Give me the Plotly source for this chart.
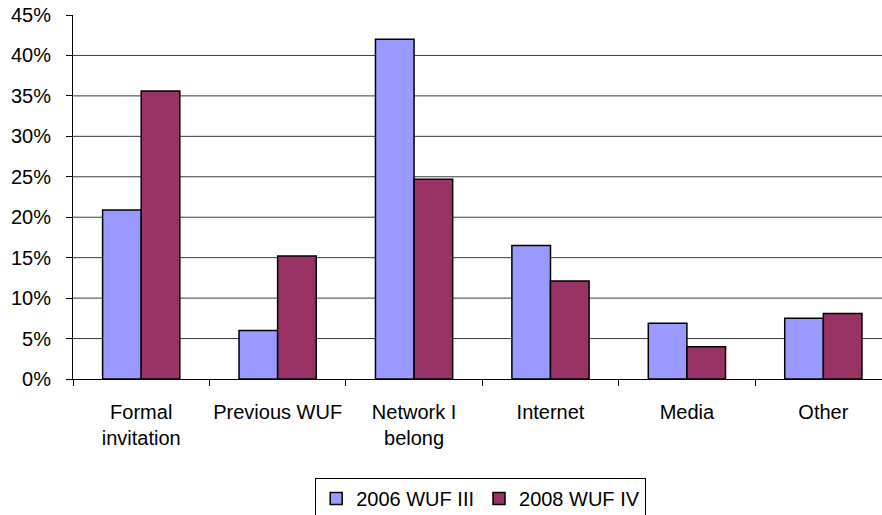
import plotly.graph_objects as go

CATEGORIES = ["Formal<br>invitation", "Previous WUF", "Network I<br>belong", "Internet", "Media", "Other"]
WUF_2006 = [0.209, 0.060, 0.420, 0.165, 0.069, 0.075]
WUF_2008 = [0.356, 0.152, 0.247, 0.121, 0.040, 0.081]
Y_TICKS = [0.0, 0.05, 0.10, 0.15, 0.20, 0.25, 0.30, 0.35, 0.40, 0.45]
GRID_VALS = [0.05, 0.10, 0.15, 0.20, 0.25, 0.30, 0.35, 0.40]

FONT = "Liberation Sans, Arial, sans-serif"

fig = go.Figure()
fig.add_trace(go.Bar(
    x=CATEGORIES, y=WUF_2006, name="2006 WUF III",
    marker=dict(color="#9999FF", line=dict(color="#000000", width=1.5)),
))
fig.add_trace(go.Bar(
    x=CATEGORIES, y=WUF_2008, name="2008 WUF IV",
    marker=dict(color="#993366", line=dict(color="#000000", width=1.5)),
))

for v in GRID_VALS:
    fig.add_hline(y=v, line=dict(color="#3a3a3a", width=1), layer="below")

fig.update_layout(
    width=882, height=515,
    margin=dict(l=73, r=0, t=15, b=136, autoexpand=False),
    paper_bgcolor="white", plot_bgcolor="white",
    font=dict(family=FONT, size=20, color="#000000"),
    barmode="group", bargap=0.434, bargroupgap=0,
    showlegend=True,
    legend=dict(
        orientation="h",
        xref="container", x=0.545, xanchor="center",
        yref="container", y=0.072, yanchor="top",
        bordercolor="#000000", borderwidth=1,
        font=dict(size=20),
        itemwidth=30,
    ),
    xaxis=dict(
        range=[-0.5, 5.43],
        showline=True, linecolor="#000000", linewidth=1,
        ticks="outside", ticklen=6, tickcolor="#000000",
        tickson="boundaries", tickangle=0,
        showgrid=False,
        ticklabelstandoff=15,
        automargin=False,
    ),
    yaxis=dict(
        range=[0, 0.45],
        tickvals=Y_TICKS, tickformat=".0%",
        showline=True, linecolor="#000000", linewidth=1,
        ticks="outside", ticklen=6, tickcolor="#000000",
        showgrid=False, zeroline=False,
        tickfont=dict(size=20),
        ticklabelstandoff=11,
        ticklabeloverflow="allow",
        automargin=False,
    ),
)

# drop the default 8px page margin so the figure sits at the window's corner
fig.write_html(
    "out.html",
    config={"displayModeBar": False},
    post_script="document.body.style.margin='0';",
)
